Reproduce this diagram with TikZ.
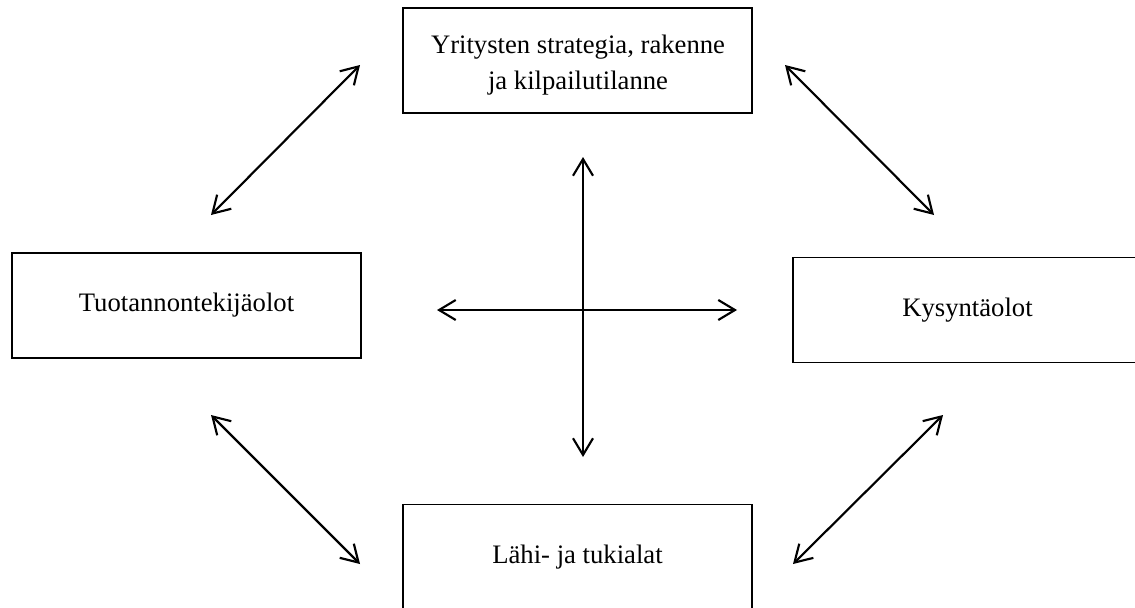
\documentclass[tikz,border=0pt]{standalone}
\usepackage{fontspec}
\setmainfont{Liberation Serif}
\usetikzlibrary{arrows.meta}
\begin{document}
\begin{tikzpicture}[x=0.75pt,y=-0.75pt,
  box/.style={draw=black,line width=1.1pt,minimum width=261.75pt,minimum height=78.75pt,
    inner sep=0pt,align=center,font=\fontsize{20}{26.5}\selectfont},
  lbl/.style={inner sep=0pt,align=center,font=\fontsize{20}{26.5}\selectfont},
  tip/.style={Straight Barb[length=12.5pt,width=15pt,line width=1.6pt]},
  link/.style={line width=1.6pt,{Straight Barb[length=12.5pt,width=15pt,line width=1.6pt]}-{Straight Barb[length=12.5pt,width=15pt,line width=1.6pt]}}]
\useasboundingbox (0,0) rectangle (1135,607);
\node[box] (top) at (577.5,60.5) {};
\node[lbl] (toptext) at (578,65) {Yritysten strategia, rakenne\\ja kilpailutilanne};
\node[box] (left) at (186.5,305.5) {Tuotannontekijäolot};
\node[box] (right) at (967.5,310) {Kysyntäolot};
\node[box] (bottom) at (577.5,557) {Lähi- ja tukialat};
% arrow end points
\coordinate (tlA) at (211,215); \coordinate (tlB) at (360,65);
\coordinate (trA) at (785,65);  \coordinate (trB) at (934,215);
\coordinate (blA) at (211,415); \coordinate (blB) at (360,564);
\coordinate (brA) at (793,564); \coordinate (brB) at (943,415);
\coordinate (vA) at (583,157);  \coordinate (vB) at (583,457);
\coordinate (hA) at (437,310);  \coordinate (hB) at (737,310);
\draw[link] (tlA) -- (tlB);
\draw[link] (trA) -- (trB);
\draw[link] (blA) -- (blB);
\draw[link] (brA) -- (brB);
\draw[link] (vA) -- (vB);
\draw[link] (hA) -- (hB);
\end{tikzpicture}
\end{document}
